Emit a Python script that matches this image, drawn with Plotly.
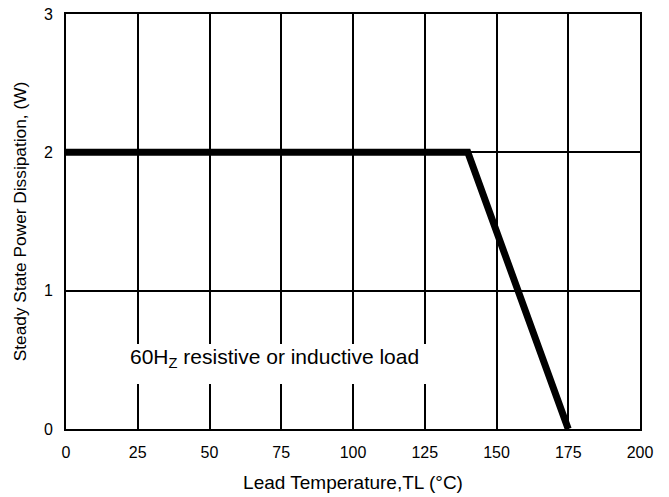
import plotly.graph_objects as go

# Data
temp_c = [0, 140, 175]
power_w = [2, 2, 0]
x_ticks = [0, 25, 50, 75, 100, 125, 150, 175, 200]
y_ticks = [0, 1, 2, 3]

fig = go.Figure()
fig.add_trace(go.Scatter(
    x=temp_c, y=power_w, mode="lines",
    line=dict(color="black", width=7),
    showlegend=False, cliponaxis=False,
))

font_family = "Liberation Sans, Arial, sans-serif"

fig.update_layout(
    width=669, height=497,
    margin=dict(l=66, r=29, t=14, b=68, autoexpand=False),
    paper_bgcolor="white", plot_bgcolor="white",
    font=dict(family=font_family, size=16, color="black"),
    xaxis=dict(
        range=[0, 200], tickvals=x_ticks, ticktext=[str(v) for v in x_ticks],
        showgrid=True, gridcolor="black", gridwidth=2,
        showline=True, linecolor="black", linewidth=2, mirror=True,
        zeroline=False, ticks="", ticklabelstandoff=8, automargin=False,
        tickfont=dict(size=16),
        title=dict(text="Lead Temperature,TL (°C)", font=dict(size=19), standoff=15),
    ),
    yaxis=dict(
        range=[0, 3], tickvals=y_ticks, ticktext=[str(v) for v in y_ticks],
        showgrid=True, gridcolor="black", gridwidth=2,
        showline=True, linecolor="black", linewidth=2, mirror=True,
        zeroline=False, ticks="", ticklabelstandoff=8, automargin=False,
        tickfont=dict(size=16),
        title=dict(text="Steady State Power Dissipation, (W)", font=dict(size=17.3), standoff=13),
    ),
    shapes=[dict(
        type="rect", xref="x", yref="y", x0=22, x1=127, y0=0.325, y1=0.6145,
        fillcolor="white", line=dict(width=0), layer="above",
    )],
    annotations=[dict(
        x=72.6, y=0.512, xref="x", yref="y",
        text="60H<sub>Z</sub> resistive or inductive load",
        showarrow=False, font=dict(size=21, color="black", family=font_family),
    )],
)

fig.write_html("out.html", config={"displayModeBar": False},
               post_script="document.body.style.margin='0';")
